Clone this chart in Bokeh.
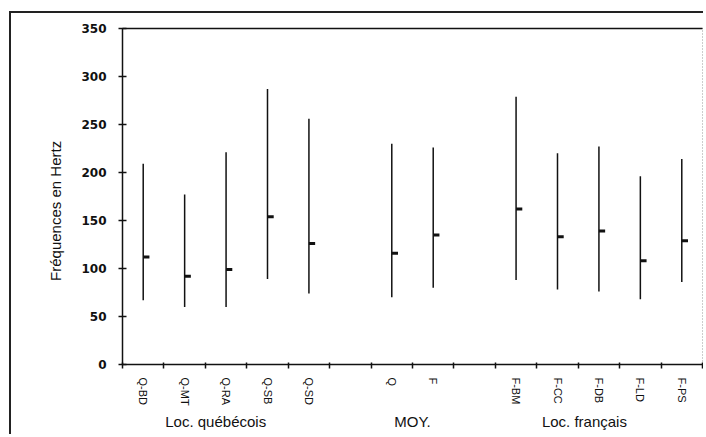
from bokeh.plotting import figure
from bokeh.models import Range1d, LinearAxis, FixedTicker, ColumnDataSource
from bokeh.embed import file_html
from bokeh.resources import INLINE

# Category slots along the x axis ("" = empty slot between groups)
slots = ["Q-BD", "Q-MT", "Q-RA", "Q-SB", "Q-SD", "", "Q", "F", "",
         "F-BM", "F-CC", "F-DB", "F-LD", "F-PS"]
categories = ["Q-BD", "Q-MT", "Q-RA", "Q-SB", "Q-SD", "Q", "F",
              "F-BM", "F-CC", "F-DB", "F-LD", "F-PS"]
low_hz = [67, 60, 60, 89, 74, 70, 80, 88, 78, 76, 68, 86]
high_hz = [209, 177, 221, 287, 256, 230, 226, 279, 220, 227, 196, 214]
mean_hz = [112, 92, 99, 154, 126, 116, 135, 162, 133, 139, 108, 129]
groups = ["Loc. québécois", "MOY.", "Loc. français"]
group_pos = [2.25, 7.0, 11.15]
y_ticks = [0, 50, 100, 150, 200, 250, 300, 350]
y_title = "Fréquences en Hertz"
y_title_pos = 160

xs = [slots.index(c) + 0.5 for c in categories]
src = ColumnDataSource(dict(x=xs, xm=[x + 0.15 for x in xs], low=low_hz,
                            high=high_hz, mean=mean_hz))

ink = "#111111"

p = figure(width=694, height=423, x_range=Range1d(0, len(slots)),
           y_range=Range1d(0, 350), output_backend="svg",
           toolbar_location=None, x_axis_type=None, y_axis_type=None,
           min_border_left=111, min_border_top=15, min_border_bottom=72,
           min_border_right=3)
p.grid.visible = False
p.background_fill_color = "white"
p.border_fill_color = "white"
# dotted frame (right side stays visible; other sides are covered by axes)
p.outline_line_color = "#9a9a9a"
p.outline_line_width = 1
p.outline_line_dash = "1 2"
p.styles = {"margin-left": "9px", "margin-top": "11px",
            "border-left": "2px solid #222", "border-top": "2px solid #222"}

# y axis
ya = LinearAxis(ticker=FixedTicker(ticks=y_ticks))
ya.axis_line_width = 1.5
ya.axis_line_color = ink
ya.major_tick_in = 4
ya.major_tick_out = 4
ya.major_tick_line_width = 1.5
ya.major_tick_line_color = ink
ya.minor_tick_line_color = None
ya.major_label_text_font = "DejaVu Sans"
ya.major_label_text_font_style = "bold"
ya.major_label_text_font_size = "12px"
ya.major_label_text_color = ink
ya.major_label_standoff = 12
p.add_layout(ya, "left")

# y title placed as a label on an outer axis
yt = LinearAxis(ticker=FixedTicker(ticks=[y_title_pos]))
yt.major_label_overrides = {y_title_pos: y_title}
yt.major_label_orientation = "vertical"
yt.axis_line_color = None
yt.major_tick_line_color = None
yt.minor_tick_line_color = None
yt.major_tick_out = 0
yt.major_tick_in = 0
yt.major_label_standoff = 14
yt.major_label_text_font = "Liberation Sans"
yt.major_label_text_font_size = "15px"
yt.major_label_text_color = ink
p.add_layout(yt, "left")

# x axis with category labels between boundary ticks
xa = LinearAxis(ticker=FixedTicker(ticks=xs,
                                   minor_ticks=list(range(len(slots) + 1))))
xa.major_label_overrides = {x: c for x, c in zip(xs, categories)}
xa.major_label_orientation = "vertical"
xa.axis_line_width = 1.5
xa.axis_line_color = ink
xa.major_tick_line_color = None
xa.major_tick_in = 0
xa.major_tick_out = 0
xa.minor_tick_in = 2
xa.minor_tick_out = 4
xa.minor_tick_line_width = 1.5
xa.minor_tick_line_color = ink
xa.major_label_standoff = 9
xa.major_label_text_font = "Liberation Sans"
xa.major_label_text_font_size = "11px"
xa.major_label_text_color = ink
p.add_layout(xa, "below")

# group labels
ga = LinearAxis(ticker=FixedTicker(ticks=group_pos))
ga.major_label_overrides = {g: t for g, t in zip(group_pos, groups)}
ga.axis_line_color = None
ga.major_tick_line_color = None
ga.minor_tick_line_color = None
ga.major_tick_in = 0
ga.major_tick_out = 0
ga.major_label_standoff = 4
ga.major_label_text_font = "Liberation Sans"
ga.major_label_text_font_size = "15px"
ga.major_label_text_color = ink
p.add_layout(ga, "below")

# top frame line
ta = LinearAxis(ticker=FixedTicker(ticks=[]))
ta.axis_line_color = ink
ta.axis_line_width = 1.5
ta.major_tick_line_color = None
ta.minor_tick_line_color = None
ta.major_label_standoff = 0
p.add_layout(ta, "above")

# ranges and means
p.segment(x0="x", y0="low", x1="x", y1="high", source=src,
          line_color=ink, line_width=1.5)
p.segment(x0="x", y0="mean", x1="xm", y1="mean", source=src,
          line_color=ink, line_width=3)

open("out.html", "w").write(file_html(p, INLINE))
